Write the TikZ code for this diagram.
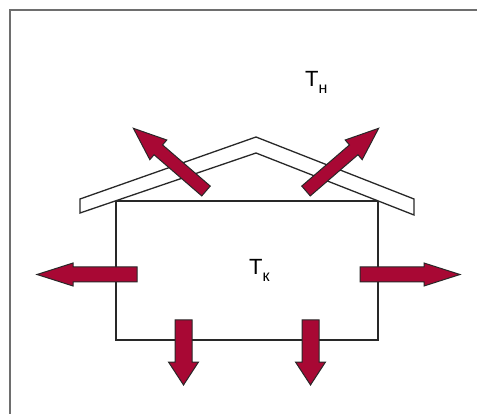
\documentclass[tikz,border=0pt]{standalone}
\usepackage{fontspec}
\setmainfont{Liberation Sans}
\usetikzlibrary{calc}
\definecolor{heatred}{RGB}{168,8,52}
\definecolor{edgegray}{RGB}{40,40,40}
\definecolor{framegray}{RGB}{110,110,110}
\tikzset{
    wall/.style={
        draw=edgegray,
        line width=1.3pt,
        line join=miter
    },
    roofline/.style={
        draw=edgegray,
        fill=white,
        line width=1.3pt,
        line join=miter
    },
    frameline/.style={
        draw=framegray,
        line width=2pt
    },
    templabel/.style={
        font=\fontsize{22}{24}\selectfont,
        anchor=base west,
        inner sep=0pt
    },
    % arrow along +x: length, head length, head half width, shaft half width
    pics/heatarrow/.style n args={4}{
        code={
            \filldraw[fill=heatred, draw=edgegray, line width=1pt, line join=miter]
                (0,{-#4}) -- ({#1-#2},{-#4}) -- ({#1-#2},{-#3}) -- (#1,0)
                -- ({#1-#2},#3) -- ({#1-#2},#4) -- (0,#4) -- cycle;
        }
    }
}
\newcommand{\tsubscr}[1]{\raisebox{-6.5pt}{\fontsize{16}{16}\selectfont #1}}

\begin{document}
\begin{tikzpicture}[x=1pt,y=-1pt]
\useasboundingbox (0,0) rectangle (477,414);

% frame
\draw[frameline] (10,414) -- (10,10) -- (477,10);

% house
\coordinate (hnw) at (116,201);
\coordinate (hse) at (378,340);
\draw[wall] (hnw) rectangle (hse);

% roof
\coordinate (rl) at (80,199);
\coordinate (rpeak) at (256,137);
\coordinate (rr) at (414,199);
\filldraw[roofline] (rl) -- (rpeak) -- (rr) -- (414,215) -- (256,153) -- (80,213) -- cycle;

% heat losses
\pic[rotate=180] (lossleft) at (137,274.5) {heatarrow={100}{36}{11.5}{7.5}};
\pic (lossright) at (360,274.5) {heatarrow={100}{36}{11.5}{7.5}};
\pic[rotate=-90] (lossfloora) at (183.5,320) {heatarrow={65}{23}{15}{8.5}};
\pic[rotate=-90] (lossfloorb) at (310.5,320) {heatarrow={65}{23}{15}{8.5}};
\pic[rotate=139.2] (lossroofa) at (206,191) {heatarrow={96}{33}{13}{6.5}};
\pic[rotate=40.8] (lossroofb) at (306,191) {heatarrow={96}{33}{13}{6.5}};

% temperatures
\node[templabel] (tout) at (305,87) {T\tsubscr{н}};
\node[templabel] (tin) at (249,275) {T\tsubscr{к}};

\end{tikzpicture}
\end{document}
